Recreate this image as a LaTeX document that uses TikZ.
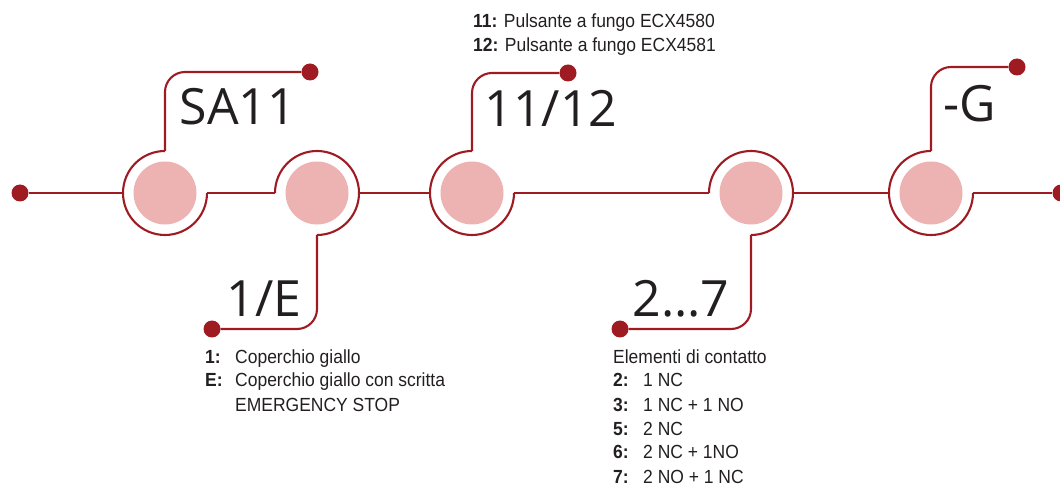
\documentclass[tikz,border=0pt]{standalone}
\usepackage{fontspec}
\setmainfont{Liberation Sans}[FakeStretch=0.92]
\newfontfamily\grande{Open Sans}
\definecolor{rosso}{HTML}{9E1B22}
\definecolor{rosa}{HTML}{EDB3B3}
\definecolor{testo}{HTML}{231F20}
\tikzset{
  filo/.style={draw=rosso, line width=2.1pt},
  disco/.style={circle, fill=rosa, minimum size=63pt, inner sep=0pt},
  anello/.style={circle, minimum size=84pt, inner sep=0pt, outer sep=0pt},
  punto/.style={circle, fill=rosso, minimum size=17pt, inner sep=0pt},
  sigla/.style={anchor=base, text=testo, inner sep=0pt, font=\grande\fontsize{50}{60}\selectfont},
  nota/.style={anchor=base west, text=testo, inner sep=0pt, font=\fontsize{19}{24}\selectfont},
}
\begin{document}
\begin{tikzpicture}[x=1pt, y=1pt]
    \useasboundingbox (0,0) rectangle (1060,485);

    % Pulsanti
    \foreach \n/\x in {1/165, 2/317, 3/472, 4/751, 5/931} {
        \node[disco] (c\n) at (\x,292) {};
        \node[anello] (a\n) at (c\n) {};
    }

    % Punti
    \node[punto] (d0) at (20,292) {};
    \node[punto] (d1) at (310,413) {};
    \node[punto] (d2) at (212,156) {};
    \node[punto] (d3) at (568,412) {};
    \node[punto] (d4) at (620,156) {};
    \node[punto] (d5) at (1017,418) {};
    \node[punto] (d6) at (1061,292) {};

    % Linea principale
    \draw[filo] (d0) -- (a1.180);
    \draw[filo] (a1.90) arc[start angle=90, end angle=360, radius=42];
    \draw[filo] (a1.0) -- (a2.180);
    \draw[filo] (a2.-90) arc[start angle=-90, end angle=180, radius=42];
    \draw[filo] (a2.0) -- (a3.180);
    \draw[filo] (a3.90) arc[start angle=90, end angle=360, radius=42];
    \draw[filo] (a3.0) -- (a4.180);
    \draw[filo] (a4.-90) arc[start angle=-90, end angle=180, radius=42];
    \draw[filo] (a4.0) -- (a5.180);
    \draw[filo] (a5.90) arc[start angle=90, end angle=360, radius=42];
    \draw[filo] (a5.0) -- (d6);

    % Rami
    \draw[filo, rounded corners=20] (a1.90) |- (d1);
    \draw[filo, rounded corners=20] (a2.-90) |- (d2);
    \draw[filo, rounded corners=20] (a3.90) |- (d3);
    \draw[filo, rounded corners=20] (a4.-90) |- (d4);
    \draw[filo, rounded corners=20] (a5.90) |- (d5);

    % Sigle
    \node[sigla] (s1) at (238,360) {SA11};
    \node[sigla] (s2) at (264,168) {1/E};
    \node[sigla] (s3) at (551,358) {11/12};
    \node[sigla] (s4) at (681,168) {2...7};
    \node[sigla] (s5) at (970,363) {-G};

    % Note
    \node[nota] (n3) at (473,457) {\begin{tabular}[t]{@{}l@{}}
        \textbf{11:} Pulsante a fungo ECX4580\\
        \textbf{12:} Pulsante a fungo ECX4581
    \end{tabular}};
    \node[nota] (n2) at (205,122) {\begin{tabular}[t]{@{}p{30pt}@{}l@{}}
        \textbf{1:} & Coperchio giallo\\
        \textbf{E:} & Coperchio giallo con scritta\\
                    & EMERGENCY STOP
    \end{tabular}};
    \node[nota] (n4) at (613,122) {\begin{tabular}[t]{@{}p{30pt}@{}l@{}}
        \multicolumn{2}{@{}l@{}}{Elementi di contatto}\\
        \textbf{2:} & 1 NC\\
        \textbf{3:} & 1 NC + 1 NO\\
        \textbf{5:} & 2 NC\\
        \textbf{6:} & 2 NC + 1NO\\
        \textbf{7:} & 2 NO + 1 NC
    \end{tabular}};
\end{tikzpicture}
\end{document}
